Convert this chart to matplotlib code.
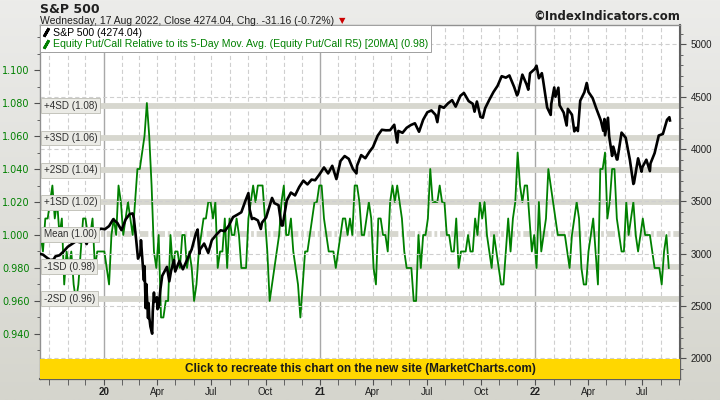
import numpy as np
import pandas as pd
import matplotlib
matplotlib.use("Agg")
import matplotlib.pyplot as plt
import matplotlib.transforms as mtransforms
from matplotlib.lines import Line2D
from matplotlib.patches import Rectangle

plt.rcParams['lines.scale_dashes'] = False

# S&P 500 closes
spx_dates = [
    "2019-09-16", "2019-09-20", "2019-09-27", "2019-10-02", "2019-10-08", "2019-10-11", "2019-10-18",
    "2019-10-25", "2019-11-01", "2019-11-08", "2019-11-15", "2019-11-22", "2019-11-29", "2019-12-03",
    "2019-12-06", "2019-12-13", "2019-12-20", "2019-12-27", "2020-01-03", "2020-01-10", "2020-01-17",
    "2020-01-24", "2020-01-31", "2020-02-07", "2020-02-14", "2020-02-19", "2020-02-21", "2020-02-25",
    "2020-02-28", "2020-03-03", "2020-03-04", "2020-03-06", "2020-03-09", "2020-03-10", "2020-03-12",
    "2020-03-13", "2020-03-16", "2020-03-17", "2020-03-18", "2020-03-20", "2020-03-23", "2020-03-24",
    "2020-03-26", "2020-03-27", "2020-03-31", "2020-04-01", "2020-04-03", "2020-04-06", "2020-04-09",
    "2020-04-17", "2020-04-21", "2020-04-24", "2020-04-29", "2020-05-01", "2020-05-08", "2020-05-14",
    "2020-05-22", "2020-05-29", "2020-06-05", "2020-06-08", "2020-06-11", "2020-06-12", "2020-06-19",
    "2020-06-26", "2020-07-02", "2020-07-10", "2020-07-17", "2020-07-24", "2020-07-31", "2020-08-07",
    "2020-08-14", "2020-08-21", "2020-08-28", "2020-09-02", "2020-09-04", "2020-09-08", "2020-09-11",
    "2020-09-18", "2020-09-23", "2020-09-25", "2020-10-02", "2020-10-09", "2020-10-12", "2020-10-16",
    "2020-10-23", "2020-10-28", "2020-10-30", "2020-11-06", "2020-11-13", "2020-11-20", "2020-11-27",
    "2020-12-04", "2020-12-11", "2020-12-18", "2020-12-24", "2020-12-31", "2021-01-08", "2021-01-15",
    "2021-01-22", "2021-01-29", "2021-02-05", "2021-02-12", "2021-02-19", "2021-02-26", "2021-03-04",
    "2021-03-05", "2021-03-12", "2021-03-19", "2021-03-26", "2021-04-01", "2021-04-09", "2021-04-16",
    "2021-04-23", "2021-04-30", "2021-05-07", "2021-05-12", "2021-05-14", "2021-05-21", "2021-05-28",
    "2021-06-04", "2021-06-11", "2021-06-18", "2021-06-25", "2021-07-02", "2021-07-09", "2021-07-16",
    "2021-07-19", "2021-07-23", "2021-07-30", "2021-08-06", "2021-08-13", "2021-08-19", "2021-08-27",
    "2021-09-02", "2021-09-10", "2021-09-17", "2021-09-20", "2021-09-24", "2021-09-30", "2021-10-04",
    "2021-10-08", "2021-10-15", "2021-10-22", "2021-10-29", "2021-11-05", "2021-11-12", "2021-11-18",
    "2021-11-26", "2021-12-01", "2021-12-03", "2021-12-10", "2021-12-17", "2021-12-20", "2021-12-23",
    "2021-12-31", "2022-01-03", "2022-01-07", "2022-01-12", "2022-01-14", "2022-01-21", "2022-01-27",
    "2022-01-28", "2022-02-02", "2022-02-04", "2022-02-09", "2022-02-11", "2022-02-18", "2022-02-23",
    "2022-02-25", "2022-03-04", "2022-03-08", "2022-03-11", "2022-03-14", "2022-03-18", "2022-03-25",
    "2022-03-29", "2022-04-01", "2022-04-08", "2022-04-14", "2022-04-22", "2022-04-26", "2022-04-28",
    "2022-04-29", "2022-05-04", "2022-05-06", "2022-05-11", "2022-05-13", "2022-05-19", "2022-05-20",
    "2022-05-27", "2022-06-03", "2022-06-10", "2022-06-16", "2022-06-17", "2022-06-24", "2022-06-30",
    "2022-07-01", "2022-07-08", "2022-07-14", "2022-07-15", "2022-07-22", "2022-07-29", "2022-08-05",
    "2022-08-12", "2022-08-16", "2022-08-17",
]
spx_close = [
    2998, 2992, 2962, 2940, 2945, 2975, 2986,
    3023, 3067, 3093, 3120, 3110, 3141, 3093,
    3146, 3169, 3221, 3240, 3235, 3265, 3330,
    3295, 3226, 3328, 3380, 3386, 3338, 3128,
    2954, 3003, 3130, 2972, 2747, 2882, 2481,
    2711, 2386, 2529, 2398, 2305, 2237, 2447,
    2630, 2541, 2585, 2471, 2489, 2664, 2790,
    2875, 2737, 2837, 2940, 2831, 2930, 2852,
    2955, 3044, 3194, 3232, 3002, 3041, 3098,
    3009, 3130, 3185, 3225, 3216, 3271, 3351,
    3373, 3397, 3508, 3580, 3427, 3332, 3341,
    3319, 3237, 3298, 3348, 3477, 3534, 3484,
    3465, 3271, 3270, 3510, 3585, 3558, 3638,
    3699, 3663, 3709, 3703, 3756, 3825, 3768,
    3841, 3714, 3887, 3934, 3907, 3811, 3768,
    3842, 3943, 3913, 3975, 4020, 4129, 4185,
    4180, 4181, 4233, 4063, 4174, 4156, 4204,
    4230, 4247, 4166, 4281, 4352, 4370, 4327,
    4258, 4412, 4395, 4437, 4468, 4406, 4509,
    4537, 4459, 4433, 4358, 4455, 4308, 4300,
    4391, 4471, 4545, 4605, 4697, 4683, 4704,
    4595, 4513, 4538, 4712, 4620, 4568, 4725,
    4766, 4797, 4677, 4726, 4663, 4398, 4327,
    4432, 4589, 4501, 4587, 4419, 4349, 4226,
    4385, 4329, 4170, 4204, 4173, 4463, 4543,
    4632, 4546, 4488, 4392, 4272, 4175, 4288,
    4132, 4300, 4123, 3935, 4024, 3901, 3901,
    4158, 4109, 3901, 3667, 3675, 3912, 3785,
    3825, 3899, 3790, 3863, 3962, 4130, 4145,
    4280, 4305, 4274,
]

# Equity Put/Call R5 [20MA], one reading every 4 days
pc_start = "2019-09-16"
pc_values = [
    1.00, 0.99, 1.01, 1.01, 1.02, 1.03, 1.01, 1.02, 1.00, 1.01,
    0.97, 0.99, 0.98, 0.99, 0.97, 0.96, 0.97, 0.99, 1.01, 1.01,
    1.00, 1.00, 1.01, 0.98, 0.99, 0.99, 0.99, 0.99, 0.98, 0.97,
    1.00, 1.01, 1.00, 1.03, 1.02, 1.00, 1.01, 1.02, 1.01, 1.00,
    1.02, 1.04, 1.04, 1.05, 1.06, 1.08, 1.06, 1.03, 0.99, 0.98,
    1.00, 0.95, 0.95, 0.96, 0.96, 1.00, 0.98, 0.99, 0.99, 0.98,
    1.00, 1.00, 0.98, 0.99, 0.98, 0.96, 0.97, 0.99, 1.00, 1.01,
    1.01, 1.02, 1.02, 1.01, 1.02, 0.98, 0.99, 0.99, 1.01, 0.98,
    1.01, 1.00, 1.00, 1.01, 1.00, 0.98, 0.98, 0.98, 1.01, 1.02,
    1.03, 1.02, 1.03, 1.03, 1.03, 1.01, 0.99, 0.96, 0.97, 0.98,
    0.99, 1.00, 1.02, 1.03, 1.00, 1.00, 1.01, 0.99, 0.98, 0.97,
    0.95, 0.97, 0.99, 0.99, 1.00, 1.01, 1.02, 1.02, 1.03, 1.03,
    1.01, 1.00, 0.99, 0.99, 0.99, 0.98, 0.99, 1.00, 1.01, 1.01,
    1.00, 1.01, 1.00, 1.03, 1.03, 1.02, 1.00, 1.00, 1.01, 1.02,
    1.01, 0.98, 0.97, 1.01, 1.01, 1.00, 1.00, 0.99, 1.02, 1.03,
    1.02, 1.03, 1.02, 1.01, 0.99, 0.98, 0.98, 0.98, 0.96, 0.96,
    1.00, 0.98, 1.00, 1.00, 1.01, 1.04, 1.02, 1.02, 1.02, 1.03,
    1.02, 1.02, 1.00, 1.00, 0.99, 0.99, 1.01, 0.98, 0.99, 0.99,
    0.99, 1.00, 0.99, 0.99, 1.01, 1.00, 1.02, 1.01, 1.02, 1.00,
    0.99, 0.98, 1.00, 0.99, 0.98, 0.97, 0.97, 0.99, 1.01, 0.99,
    1.01, 1.02, 1.05, 1.03, 1.02, 1.03, 1.03, 1.01, 0.99, 1.00,
    0.98, 1.02, 0.99, 1.00, 1.01, 1.04, 1.03, 1.02, 1.01, 1.00,
    1.00, 1.00, 1.00, 0.99, 0.98, 1.00, 1.01, 1.02, 1.01, 0.98,
    0.97, 0.97, 0.99, 1.00, 1.01, 0.99, 0.97, 1.04, 1.04, 1.05,
    1.01, 1.02, 1.04, 1.04, 1.01, 1.00, 0.99, 0.99, 1.02, 1.00,
    1.01, 1.02, 1.00, 0.99, 1.00, 1.01, 1.00, 1.00, 1.00, 0.99,
    0.98, 0.98, 0.98, 0.97, 0.99, 1.00, 0.98,
]

pc_mean = 1.0003
pc_sd = 0.0195
band_names = ["+4SD", "+3SD", "+2SD", "+1SD", "Mean", "-1SD", "-2SD"]
band_k = [4, 3, 2, 1, 0, -1, -2]

green = "#008000"
band_col = "#d7d7cf"

spx_x = pd.to_datetime(spx_dates)
pc_x = pd.date_range(pc_start, periods=len(pc_values), freq="4D")

fig = plt.figure(figsize=(7.2, 4.0), dpi=100)

# gray gradient background
bg = fig.add_axes([0, 0, 1, 1], zorder=-5)
grad = np.linspace(0, 1, 256).reshape(-1, 1)
bg.imshow(grad, aspect="auto", cmap=matplotlib.colors.LinearSegmentedColormap.from_list(
    "g", ["#ececea", "#d5d5cd"]), extent=[0, 1, 0, 1])
bg.axis("off")

ax = fig.add_axes([40 / 720, 21 / 400, 640 / 720, 354 / 400])
ax.set_facecolor("white")
ax2 = ax.twinx()

x0 = pd.Timestamp("2019-09-15")
x1 = pd.Timestamp("2022-09-03")
ax.set_xlim(x0, x1)
ax.set_ylim(0.9127, 1.1273)
ax2.set_ylim(1804, 5186)

# month grid
for m in pd.date_range("2019-10-01", "2022-09-01", freq="MS"):
    if m.month == 1:
        ax.axvline(m, color="#a8a8a8", lw=1.0, zorder=0)
    else:
        ax.axvline(m, color="#cfcfcf", lw=0.8, dashes=(3, 2), zorder=0)
for v in range(2000, 5001, 500):
    ax2.axhline(v, color="#cfcfcf", lw=0.8, dashes=(3, 2), zorder=0)

# SD bands
for name, k in zip(band_names, band_k):
    v = pc_mean + k * pc_sd
    if k == 0:
        ax.axhline(v, color=band_col, lw=4.2, dashes=(6, 2, 2, 2), zorder=1)
    else:
        ax.axhline(v, color=band_col, lw=4.2, zorder=1)

ax.plot(pc_x, pc_values, color=green, lw=1.3, zorder=3)
ax2.plot(spx_x, spx_close, color="black", lw=1.9, zorder=3)

# band labels above the lines
tr = mtransforms.blended_transform_factory(ax.transAxes, ax.transData)
for name, k in zip(band_names, band_k):
    v = pc_mean + k * pc_sd
    ax2.text(0.006, v, "%s (%.2f)" % (name, v), transform=tr, fontsize=7.1,
             family="Liberation Sans", color="#303030", va="center", ha="left", zorder=6,
             bbox=dict(boxstyle="square,pad=0.25", facecolor="#ebebe6", edgecolor="#c4c4bc", lw=0.7))

# yellow banner
ax2.add_patch(Rectangle((0, 0), 1, 20 / 354, transform=ax.transAxes, facecolor="#ffd700",
                        edgecolor="none", zorder=8))
ax2.text(0.5, 10 / 354, "Click to recreate this chart on the new site (MarketCharts.com)",
         transform=ax.transAxes, ha="center", va="center", fontsize=8.5, fontweight="bold",
         family="Liberation Sans", color="#1a1a1a", zorder=9)

# left axis
ax.set_yticks(np.arange(0.94, 1.101, 0.02))
ax.set_yticks(np.arange(0.93, 1.121, 0.01), minor=True)
ax.set_yticklabels(["%.3f" % t for t in np.arange(0.94, 1.101, 0.02)])
ax.tick_params(axis="y", which="both", colors="#505050", labelcolor=green, labelsize=7, direction="out")
ax.tick_params(axis="y", which="major", length=4)
ax.tick_params(axis="y", which="minor", length=2.5)

# right axis
ax2.set_yticks(range(2000, 5001, 500))
ax2.set_yticks(range(1900, 5200, 100), minor=True)
ax2.tick_params(axis="y", which="both", colors="#505050", labelcolor="#202020", labelsize=7, direction="out")
ax2.tick_params(axis="y", which="major", length=4)
ax2.tick_params(axis="y", which="minor", length=2.5)
for t in ax2.get_yticklabels():
    t.set_family("Liberation Sans")

# x axis
qt = pd.date_range("2020-01-01", "2022-07-01", freq="QS")
qlab = [("%02d" % (d.year % 100)) if d.month == 1 else d.strftime("%b") for d in qt]
ax.set_xticks(qt)
ax.set_xticklabels(qlab)
ax.set_xticks(pd.date_range("2019-10-01", "2022-09-01", freq="MS"), minor=True)
ax.tick_params(axis="x", which="both", length=4, colors="#505050", labelcolor="#202020",
               labelsize=7, direction="out", pad=2)
for t, d in zip(ax.get_xticklabels(), qt):
    t.set_family("Liberation Sans")
    if d.month == 1:
        t.set_fontweight("bold")

for s in ["left", "top"]:
    ax2.spines[s].set_color("#909090")
for s in ["right", "bottom"]:
    ax2.spines[s].set_color("#606060")
    ax2.spines[s].set_linewidth(1.5)

# legend
handles = [
    Line2D([0], [0], color="black", lw=0, marker=(2, 2, -30), markersize=7, markeredgewidth=2),
    Line2D([0], [0], color=green, lw=0, marker=(2, 2, -30), markersize=7, markeredgewidth=2),
]
labels = ["S&P 500 (4274.04)",
          "Equity Put/Call Relative to its 5-Day Mov. Avg. (Equity Put/Call R5) [20MA] (0.98)"]
leg = ax2.legend(handles, labels, loc="upper left", bbox_to_anchor=(0, 1), borderaxespad=0,
                 fancybox=False, edgecolor="#a0a0a0", framealpha=1, handlelength=0.6,
                 handletextpad=0.3, borderpad=0.3, labelspacing=0.1,
                 prop={"family": "Liberation Sans", "size": 7.6}, labelcolor="linecolor")
leg.set_zorder(10)
leg.get_frame().set_linewidth(0.7)

# header texts
fig.text(40 / 720, 1 - 9.5 / 400, "S&P 500", fontsize=9, fontweight="bold", va="center", ha="left",
         color="#202020")
fig.text(40 / 720, 1 - 20.5 / 400, "Wednesday, 17 Aug 2022, Close 4274.04, Chg. -31.16 (-0.72%)",
         fontsize=7.5, family="Liberation Sans", va="center", ha="left", color="#202020")
fig.text(342 / 720, 1 - 21 / 400, "\u25bc", fontsize=6, color="#cc0000", va="center", ha="center")
fig.text(680 / 720, 1 - 17 / 400, "\u00a9IndexIndicators.com", fontsize=8.5, fontweight="bold",
         va="center", ha="right", color="#202020")

fig.savefig("out.png", dpi=100)
